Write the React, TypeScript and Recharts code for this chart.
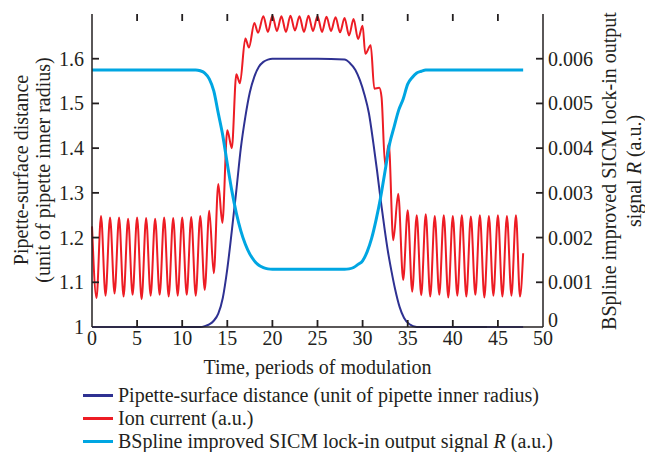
import React from 'react';
import {LineChart, Line, XAxis, YAxis, Label} from 'recharts';

// axis ticks
const timeTicks = [0, 5, 10, 15, 20, 25, 30, 35, 40, 45, 50];
const distanceTicks = [1, 1.1, 1.2, 1.3, 1.4, 1.5, 1.6];
const signalTicks = [0, 0.001, 0.002, 0.003, 0.004, 0.005, 0.006];

// pipette-surface distance (left axis)
const distanceTime = [0, 5, 10, 12, 12.5, 13, 13.5, 14, 14.5, 15, 15.5, 16, 16.5, 17, 17.5, 18, 18.5, 19, 19.5, 20, 21, 25,
    28, 28.6, 29.2, 29.7, 30.2, 30.7, 31.2, 31.6, 32, 32.4, 32.8, 33.2, 33.6, 34.1, 34.6, 35.2, 36, 40, 45, 47.8];
const distanceValue = [1, 1, 1, 1, 1.002, 1.006, 1.014, 1.03, 1.065, 1.13, 1.215, 1.305, 1.4, 1.47, 1.525, 1.56, 1.582, 1.593, 1.598, 1.6, 1.6, 1.6,
    1.598, 1.59, 1.575, 1.552, 1.52, 1.478, 1.41, 1.35, 1.285, 1.225, 1.17, 1.125, 1.085, 1.045, 1.02, 1.006, 1, 1, 1, 1];

// lock-in output R (right axis)
const signalTime = [0, 5, 10, 11.5, 12, 12.5, 13, 13.5, 14, 14.5, 15, 15.5, 16, 16.5, 17, 17.5, 18, 18.5, 19, 19.5, 20, 25,
    28, 28.5, 29, 29.5, 30, 30.5, 31, 31.5, 32, 32.5, 33, 33.5, 34, 34.5, 35, 35.5, 36, 36.5, 37, 40, 45, 47.8];
const signalValue = [0.00575, 0.00575, 0.00575, 0.00575, 0.00573, 0.00568, 0.00555, 0.00528, 0.00478, 0.00428, 0.00365, 0.00305,
    0.00255, 0.00215, 0.00185, 0.00163, 0.00148, 0.00138, 0.00133, 0.0013, 0.00129, 0.00129,
    0.00129, 0.0013, 0.00133, 0.0014, 0.00148, 0.00168, 0.00198, 0.0024, 0.0029, 0.0035, 0.0041, 0.00448, 0.00485, 0.0051,
    0.00543, 0.00558, 0.00568, 0.00572, 0.00575, 0.00575, 0.00575, 0.00575];

// ion current (a.u., drawn on left axis)
const ionTime = [0, 0.5, 1, 1.5, 2, 2.5, 3, 3.5, 4, 4.5, 5, 5.5, 6, 6.5, 7, 7.5, 8, 8.5, 9, 9.5, 10, 10.5, 11, 11.5, 12, 12.5,
    13, 13.5, 14, 14.45, 15, 15.5, 16, 16.4, 17, 17.4, 18, 18.4, 19, 19.5, 20, 20.5, 21, 21.5, 22, 22.5, 23, 23.5, 24, 24.5,
    25, 25.5, 26, 26.5, 27, 27.5, 28, 28.5, 29, 29.5, 30, 30.3, 30.9, 31.3, 31.85, 32.1, 32.5, 32.9, 33.4, 33.95, 34.5,
    35, 35.5, 36, 36.5, 37, 37.5, 38, 38.5, 39, 39.5, 40, 40.5, 41, 41.5, 42, 42.5, 43, 43.5, 44, 44.5, 45, 45.5, 46, 46.5,
    47, 47.45, 47.8];
const ionValue = [1.225, 1.065, 1.248, 1.07, 1.245, 1.075, 1.245, 1.068, 1.242, 1.072, 1.245, 1.062, 1.244, 1.07, 1.242, 1.072,
    1.245, 1.068, 1.244, 1.07, 1.245, 1.072, 1.246, 1.07, 1.248, 1.083,
    1.26, 1.12, 1.32, 1.233, 1.44, 1.4, 1.565, 1.545, 1.645, 1.625, 1.68, 1.658, 1.695, 1.66, 1.696, 1.662, 1.695, 1.66,
    1.696, 1.663, 1.695, 1.66, 1.696, 1.662, 1.695, 1.66, 1.694, 1.662, 1.693, 1.659, 1.691, 1.652, 1.689, 1.644,
    1.674, 1.611, 1.63, 1.533, 1.535, 1.514, 1.362, 1.41, 1.194, 1.298, 1.105,
    1.261, 1.079, 1.25, 1.071, 1.252, 1.068, 1.248, 1.072, 1.25, 1.066, 1.248, 1.07, 1.25, 1.068, 1.247, 1.072, 1.25,
    1.066, 1.248, 1.07, 1.25, 1.068, 1.248, 1.07, 1.25, 1.068, 1.165];

const toRows = (ts: number[], vs: number[]) => ts.map((t, i) => ({t, v: vs[i]}));

const distanceRows = toRows(distanceTime, distanceValue);
const signalRows = toRows(signalTime, signalValue);
const ionRows = toRows(ionTime, ionValue);

const ink = '#231f20';
const font = '"Liberation Serif", "Times New Roman", serif';
const navy = '#2e3192';
const navyLight = '#5252c4';
const red = '#ed1c24';
const cyan = '#00a6e2';
const fontSize = 20;

// plot box edges (px), used to draw the inward tick marks
const PLOT_LEFT = 92;
const PLOT_RIGHT = 543;
const PLOT_TOP = 14;
const PLOT_BOTTOM = 327;
const TICK = 7;

const LeftTick = (props: any) => {
    const {x, y, payload} = props;
    const v = payload.value;
    return (
        <g>
            {v !== 1 && <line x1={PLOT_LEFT} x2={PLOT_LEFT + TICK} y1={y} y2={y} stroke={ink} strokeWidth={1.8}/>}
            <text x={x} y={y} dy="0.35em" textAnchor="end" fill={ink} fontFamily={font} fontSize={fontSize}>
                {v === 1 ? '1' : v.toFixed(1)}
            </text>
        </g>
    );
};

const RightTick = (props: any) => {
    const {x, y, payload} = props;
    const v = payload.value;
    return (
        <g>
            {v !== 0 && <line x1={PLOT_RIGHT - TICK} x2={PLOT_RIGHT} y1={y} y2={y} stroke={ink} strokeWidth={1.8}/>}
            <text x={x} y={v === 0 ? y - 7 : y} dy="0.35em" textAnchor="start" fill={ink} fontFamily={font} fontSize={fontSize}>
                {v === 0 ? '0' : v.toFixed(3)}
            </text>
        </g>
    );
};

const BottomTick = (props: any) => {
    const {x, y, payload} = props;
    const v = payload.value;
    return (
        <g>
            {v !== 0 && v !== 50 && (
                <>
                    <line x1={x} x2={x} y1={PLOT_BOTTOM - TICK} y2={PLOT_BOTTOM} stroke={ink} strokeWidth={1.8}/>
                    <line x1={x} x2={x} y1={PLOT_TOP} y2={PLOT_TOP + TICK} stroke={ink} strokeWidth={1.8}/>
                </>
            )}
            <text x={x} y={y} dy="0.71em" textAnchor="middle" fill={ink} fontFamily={font} fontSize={fontSize}>
                {v}
            </text>
        </g>
    );
};

const LeftTitle = () => (
    <g fill={ink} fontFamily={font} fontSize={fontSize}>
        <text x={21} y={170} transform="rotate(-90 21 170)" textAnchor="middle" dominantBaseline="central">
            Pipette-surface distance
        </text>
        <text x={43} y={170} transform="rotate(-90 43 170)" textAnchor="middle" dominantBaseline="central">
            (unit of pipette inner radius)
        </text>
    </g>
);

const RightTitle = () => (
    <g fill={ink} fontFamily={font} fontSize={fontSize}>
        <text x={609} y={171} transform="rotate(-90 609 171)" textAnchor="middle" dominantBaseline="central">
            BSpline improved SICM lock-in output
        </text>
        <text x={634} y={171} transform="rotate(-90 634 171)" textAnchor="middle" dominantBaseline="central">
            signal <tspan fontStyle="italic">R</tspan> (a.u.)
        </text>
    </g>
);

const legendItems = [
    {label: 'Pipette-surface distance (unit of pipette inner radius)', color: navy},
    {label: 'Ion current (a.u.)', color: red},
    {label: 'BSpline improved SICM lock-in output signal ', italic: 'R', tail: ' (a.u.)', color: cyan},
];

export default function App() {
    return (
        <div style={{position: 'absolute', left: 0, top: 0, width: 645, height: 452, background: '#fff'}}>
            <LineChart width={645} height={380} margin={{top: PLOT_TOP, right: 42, bottom: 6, left: 32}}>
                <defs>
                    <linearGradient id="distanceStroke" x1="0" y1="0" x2="1" y2="0">
                        <stop offset="0%" stopColor={navyLight}/>
                        <stop offset="9.4%" stopColor={navyLight}/>
                        <stop offset="9.4%" stopColor={navy}/>
                        <stop offset="91.6%" stopColor={navy}/>
                        <stop offset="91.6%" stopColor={navyLight}/>
                        <stop offset="100%" stopColor={navyLight}/>
                    </linearGradient>
                </defs>
                <XAxis xAxisId="bottom" dataKey="t" type="number" domain={[0, 50]} ticks={timeTicks}
                       allowDuplicatedCategory={false} height={47} stroke={ink} strokeWidth={1.5}
                       tickLine={false} tickSize={0} tickMargin={4} tick={<BottomTick/>}>
                    <Label value="Time, periods of modulation" position="insideBottom" offset={0}
                           fill={ink} fontFamily={font} fontSize={fontSize}/>
                </XAxis>
                <XAxis xAxisId="top" orientation="top" dataKey="t" type="number" domain={[0, 50]}
                       height={0} stroke={ink} strokeWidth={1.5} tickLine={false} tick={false}/>
                <YAxis yAxisId="left" type="number" domain={[1, 1.7]} ticks={distanceTicks} width={60}
                       stroke={ink} strokeWidth={1.5} tickLine={false} tickSize={0} tickMargin={8}
                       tick={<LeftTick/>} label={<LeftTitle/>}/>
                <YAxis yAxisId="right" orientation="right" type="number" domain={[0, 0.007]} ticks={signalTicks}
                       width={60} stroke={ink} strokeWidth={1.5} tickLine={false} tickSize={0} tickMargin={5}
                       tick={<RightTick/>} label={<RightTitle/>}/>
                <Line data={ionRows} dataKey="v" xAxisId="bottom" yAxisId="left" type="monotone" stroke={red}
                      strokeWidth={2} dot={false} isAnimationActive={false}/>
                <Line data={distanceRows} dataKey="v" xAxisId="bottom" yAxisId="left" type="monotone"
                      stroke="url(#distanceStroke)" strokeWidth={2} dot={false} isAnimationActive={false}/>
                <Line data={signalRows} dataKey="v" xAxisId="bottom" yAxisId="right" type="monotone" stroke={cyan}
                      strokeWidth={3} dot={false} isAnimationActive={false}/>
            </LineChart>
            <div style={{position: 'absolute', left: 83, top: 384, fontFamily: font, fontSize: fontSize, color: ink, lineHeight: '23px'}}>
                {legendItems.map((item) => (
                    <div key={item.label} style={{display: 'flex', alignItems: 'center', height: 23}}>
                        <span style={{display: 'inline-block', width: 30, height: 3, background: item.color, marginRight: 5}}/>
                        <span>{item.label}{item.italic && <i>{item.italic}</i>}{item.tail}</span>
                    </div>
                ))}
            </div>
        </div>
    );
}
